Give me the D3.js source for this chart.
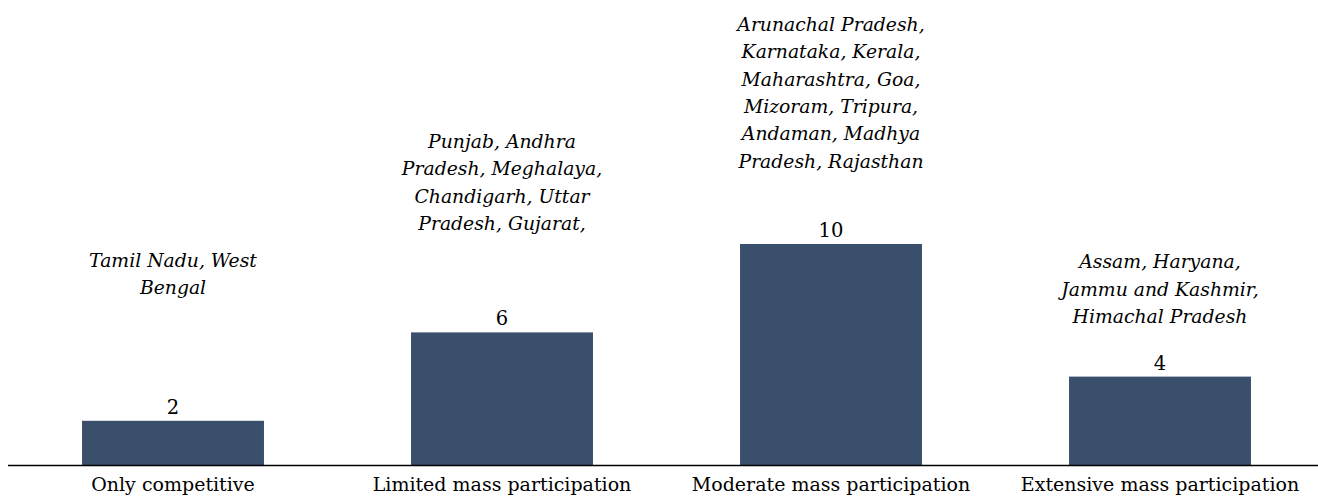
<!DOCTYPE html>
<html>
<head>
<meta charset="utf-8">
<script src="https://cdn.jsdelivr.net/npm/d3@7"></script>
<style>
  html, body { margin: 0; padding: 0; background: #fff; }
  svg { display: block; }
  text { font-family: "DejaVu Serif", serif; fill: #000; }
</style>
</head>
<body>
<svg id="chart" width="1318" height="497"></svg>
<script>
// ---- data ----
const categories = ["Only competitive", "Limited mass participation", "Moderate mass participation", "Extensive mass participation"];
const counts = [2, 6, 10, 4];
const stateLines = [
  ["Tamil Nadu, West", "Bengal"],
  ["Punjab, Andhra", "Pradesh, Meghalaya,", "Chandigarh, Uttar", "Pradesh, Gujarat,"],
  ["Arunachal Pradesh,", "Karnataka, Kerala,", "Maharashtra, Goa,", "Mizoram, Tripura,", "Andaman, Madhya", "Pradesh, Rajasthan"],
  ["Assam, Haryana,", "Jammu and Kashmir,", "Himachal Pradesh"]
];

// ---- layout ----
const W = 1318, H = 497;
const baseY = 465;
const noteFirstBaseline = [266.5, 148, 30.7, 268.3]; // annotation placement (px)
const lineGap = 27.4;
const barColor = "#394f6c";

const svg = d3.select("#chart");

const x = d3.scaleBand()
  .domain(categories)
  .range([8.5, 1324.5])
  .paddingInner(0.447)
  .paddingOuter(0.2235);

const y = d3.scaleLinear()
  .domain([0, 10])
  .range([baseY, 244]);

// bars
svg.append("g")
  .selectAll("rect")
  .data(categories)
  .join("rect")
  .attr("x", d => x(d))
  .attr("y", (d, i) => y(counts[i]))
  .attr("width", x.bandwidth())
  .attr("height", (d, i) => baseY - y(counts[i]))
  .attr("fill", barColor);

// axis
const axis = svg.append("g")
  .attr("transform", `translate(0,${baseY})`)
  .call(d3.axisBottom(x).tickSize(0).tickPadding(13));
axis.select(".domain").attr("stroke", "#000").attr("stroke-width", 1.4)
  .attr("d", `M8,0.5H${W}`);
axis.selectAll("text")
  .style("font-family", "'DejaVu Serif', serif")
  .attr("font-size", 19)
  .attr("fill", "#000");

// value labels
svg.append("g")
  .selectAll("text")
  .data(categories)
  .join("text")
  .attr("x", d => x(d) + x.bandwidth() / 2)
  .attr("y", (d, i) => y(counts[i]) - 7)
  .attr("text-anchor", "middle")
  .attr("font-size", 19.5)
  .text((d, i) => counts[i]);

// state annotations
const notes = svg.append("g");
categories.forEach((c, i) => {
  const t = notes.append("text")
    .attr("text-anchor", "middle")
    .attr("font-size", 18.8)
    .attr("font-style", "italic");
  stateLines[i].forEach((line, j) => {
    t.append("tspan")
      .attr("x", x(c) + x.bandwidth() / 2)
      .attr("y", noteFirstBaseline[i] + j * lineGap)
      .text(line);
  });
});
</script>
</body>
</html>
